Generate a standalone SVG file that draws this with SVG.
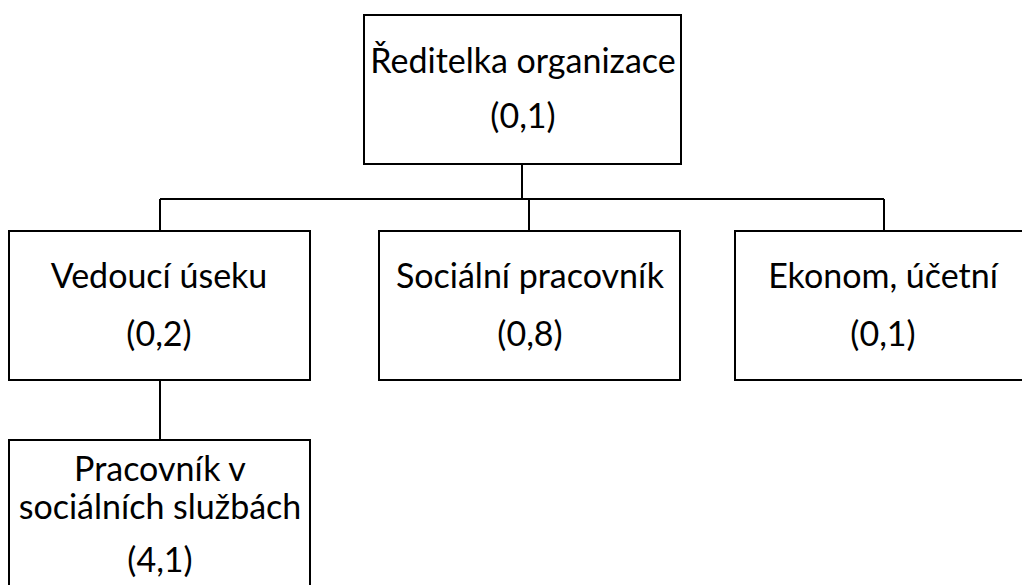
<svg xmlns="http://www.w3.org/2000/svg" width="1022" height="585" viewBox="0 0 1022 585">
<style>
.box{fill:#fff;stroke:#000;stroke-width:2}
.ln{fill:none;stroke:#000;stroke-width:2}
text{font-family:Lato,"Open Sans",sans-serif;font-size:34px;fill:#000;text-anchor:middle}
</style>
<rect width="1022" height="585" fill="#fff"/>
<g id="connectors">
<path class="ln" d="M522 164V199M160 199H884M160 199V231M529 199V231M884 199V231M160 380V440"/>
</g>
<g id="n-reditelka">
<rect class="box" x="364" y="15" width="317" height="149"/>
<text x="523" y="73">Ředitelka organizace</text>
<text x="523" y="128">(0,1)</text>
</g>
<g id="n-vedouci">
<rect class="box" x="9" y="231" width="301" height="149"/>
<text x="159" y="288">Vedoucí úseku</text>
<text x="159" y="346">(0,2)</text>
</g>
<g id="n-socialni">
<rect class="box" x="379" y="231" width="301" height="149"/>
<text x="530" y="288">Sociální pracovník</text>
<text x="530" y="346">(0,8)</text>
</g>
<g id="n-ekonom">
<rect class="box" x="735" y="231" width="300" height="149"/>
<text x="883" y="288">Ekonom, účetní</text>
<text x="883" y="346">(0,1)</text>
</g>
<g id="n-pracovnik">
<rect class="box" x="9" y="440" width="301" height="160"/>
<text x="160" y="481">Pracovník v</text>
<text x="160" y="519">sociálních službách</text>
<text x="160" y="572">(4,1)</text>
</g>
</svg>
